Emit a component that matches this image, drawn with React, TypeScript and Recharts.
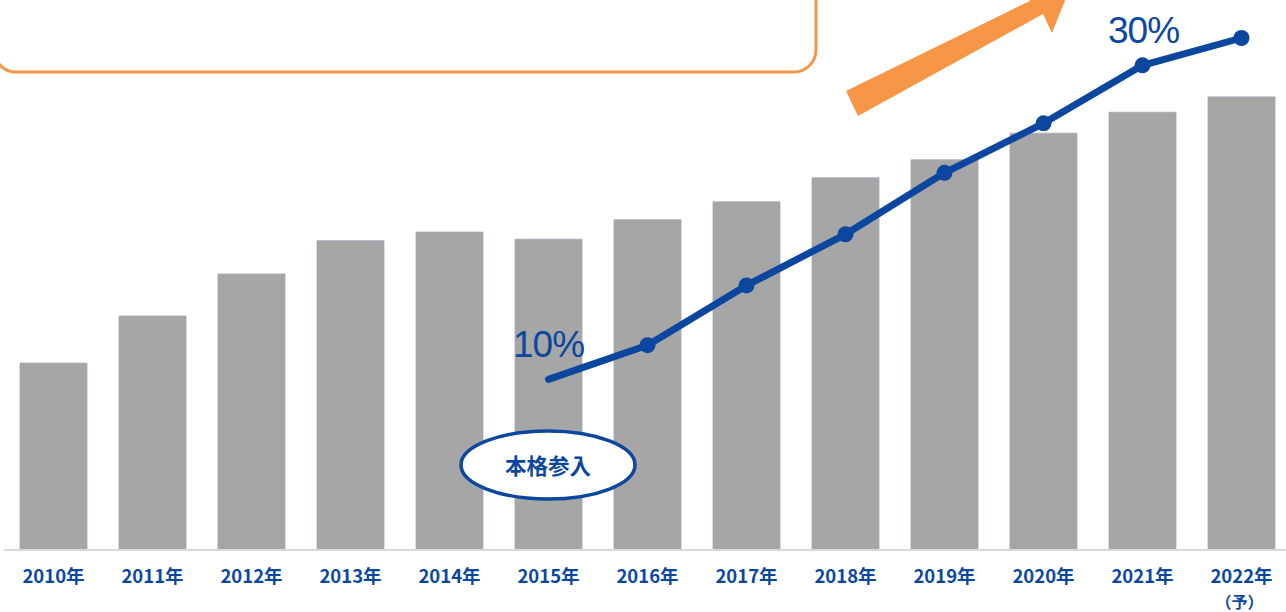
import { ComposedChart, Bar, Line, XAxis, YAxis, LabelList } from "recharts";

const years = [
  "2010年", "2011年", "2012年", "2013年", "2014年", "2015年", "2016年",
  "2017年", "2018年", "2019年", "2020年", "2021年", "2022年",
];
// market size (index, no scale shown)
const marketSize = [36.5, 45.7, 53.9, 60.4, 62.1, 60.7, 64.5, 68.0, 72.7, 76.2, 81.4, 85.5, 88.5];
// share %, starting at entry in 2015
const share = [null, null, null, null, null, 10, 12, 15.5, 18.5, 22.1, 25.0, 28.4, 30];
const forecastNote = "（予）";
const entryLabel = "本格参入";

const BLUE = "#0B479F";
const ORANGE = "#F79646";

const data = years.map((y, i) => ({ year: y, size: marketSize[i], share: share[i] }));

function YearTick(props: any) {
  const { x, y, payload, index } = props;
  return (
    <g>
      <text
        x={x}
        y={y + 25}
        textAnchor="middle"
        fill={BLUE}
        fontSize={18.5}
        fontWeight={700}
        fontFamily="'Noto Sans CJK JP', 'Liberation Sans', sans-serif"
      >
        {payload.value}
      </text>
      {index === years.length - 1 && (
        <text
          x={x - 2}
          y={y + 50}
          textAnchor="middle"
          fill={BLUE}
          fontSize={16}
          fontWeight={700}
          fontFamily="'Noto Sans CJK JP', sans-serif"
        >
          {forecastNote}
        </text>
      )}
    </g>
  );
}

function ShareDot(props: any) {
  const { cx, cy, index } = props;
  if (index === 5 || cy == null) return <g key={`d${index}`} />;
  return <circle key={`d${index}`} cx={cx} cy={cy} r={8} fill={BLUE} />;
}

function ShareLabel(props: any) {
  const { x, y, index, value } = props;
  if (index === 5) {
    return (
      <text x={x} y={y - 22} textAnchor="middle" fill={BLUE} fontSize={37}
        fontFamily="'Liberation Sans', Arial, sans-serif" letterSpacing={-1}>
        {value}%
      </text>
    );
  }
  if (index === years.length - 1) {
    return (
      <text x={x - 98} y={y + 5} textAnchor="middle" fill={BLUE} fontSize={37}
        fontFamily="'Liberation Sans', Arial, sans-serif" letterSpacing={-1}>
        {value}%
      </text>
    );
  }
  return null;
}

export default function App() {
  return (
    <div style={{ position: "fixed", left: 0, top: 0, width: 1286, height: 612, overflow: "hidden", background: "#fff" }}>
      <ComposedChart
        width={1300}
        height={612}
        data={data}
        margin={{ top: 38, right: 9, left: 4, bottom: 0 }}
      >
        <XAxis
          dataKey="year"
          height={62}
          axisLine={{ stroke: "#d9d9d9", strokeWidth: 2 }}
          tickLine={false}
          interval={0}
          tick={<YearTick />}
        />
        <YAxis yAxisId="size" hide domain={[0, 100]} />
        <YAxis yAxisId="share" hide domain={[0, 30]} />
        <Bar
          yAxisId="size"
          dataKey="size"
          fill="#A6A6A6"
          stroke="#9CA8BA"
          strokeWidth={0.8}
          barSize={67}
          isAnimationActive={false}
        />
        <Line
          yAxisId="share"
          dataKey="share"
          stroke={BLUE}
          strokeWidth={7}
          strokeLinecap="round"
          strokeLinejoin="round"
          dot={<ShareDot />}
          activeDot={false}
          isAnimationActive={false}
        >
          <LabelList dataKey="share" content={<ShareLabel />} />
        </Line>
      </ComposedChart>
      <svg
        width={1286}
        height={612}
        style={{ position: "absolute", left: 0, top: 0, pointerEvents: "none" }}
      >
        <rect x={-6} y={-60} width={822} height={132} rx={22} ry={22} fill="none" stroke={ORANGE} strokeWidth={3} />
        <polygon points="846,91 1030,1 1024,-12 1070,-12 1052,33 1043,14 858,116" fill={ORANGE} />
        <ellipse cx={548} cy={465} rx={87} ry={34} fill="#fff" stroke={BLUE} strokeWidth={3.5} />
        <text
          x={548}
          y={474}
          textAnchor="middle"
          fill={BLUE}
          fontSize={21.5}
          fontWeight={700}
          fontFamily="'Noto Sans CJK JP', sans-serif"
        >
          {entryLabel}
        </text>
      </svg>
    </div>
  );
}
